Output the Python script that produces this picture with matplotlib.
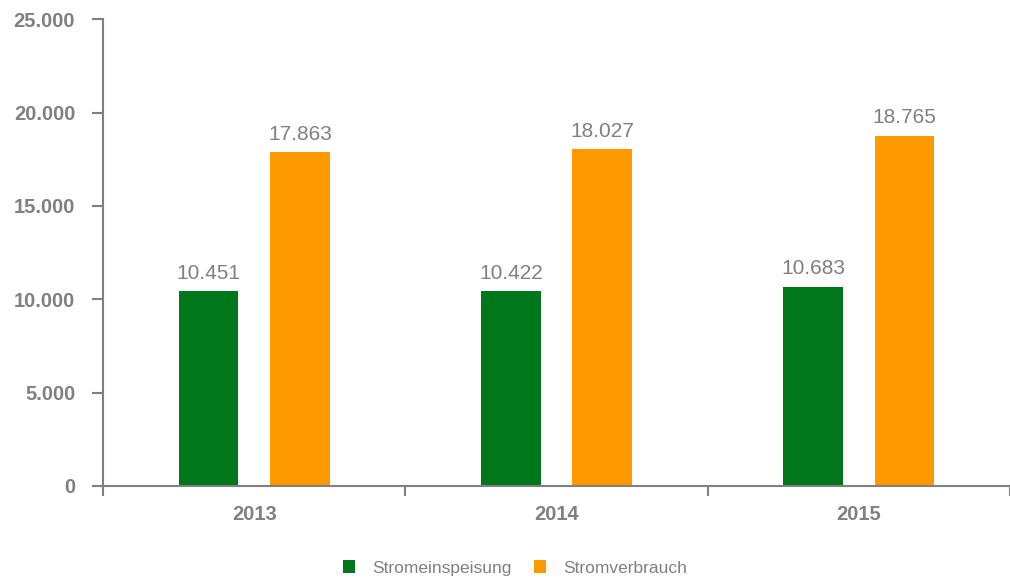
import numpy as np
import matplotlib
matplotlib.use("Agg")
import matplotlib.pyplot as plt

plt.rcParams["font.family"] = ["Liberation Sans", "DejaVu Sans"]

# data
years = ["2013", "2014", "2015"]
einspeisung = [10451, 10422, 10683]
verbrauch = [17863, 18027, 18765]
series_names = ["Stromeinspeisung", "Stromverbrauch"]
yticks = [0, 5000, 10000, 15000, 20000, 25000]

GREEN = "#00771a"
ORANGE = "#ff9900"
GRAY = "#808080"


def fmt(v):
    return f"{v:,.0f}".replace(",", ".")


fig = plt.figure(figsize=(10.10, 5.82), dpi=100)
ax = fig.add_axes([0.102, 0.165, 0.898, 0.802])

x = np.arange(len(years))
w = 0.197
off = 0.151
b1 = ax.bar(x - off, einspeisung, w, color=GREEN, label=series_names[0])
b2 = ax.bar(x + off, verbrauch, w, color=ORANGE, label=series_names[1])

for bars, vals in ((b1, einspeisung), (b2, verbrauch)):
    for rect, v in zip(bars, vals):
        ax.annotate(fmt(v), (rect.get_x() + rect.get_width() / 2, v),
                    xytext=(0, 6), textcoords="offset points",
                    ha="center", va="bottom", fontsize=15, color=GRAY)

ax.set_ylim(0, 25000)
ax.set_xlim(-0.5, -0.5 + 907 / 305)
ax.set_yticks(yticks)
ax.set_yticklabels([fmt(t) for t in yticks], fontsize=14.5, fontweight="bold", color=GRAY)

# category labels centered, tick marks at boundaries
ax.set_xticks(x)
ax.set_xticklabels(years, fontsize=14.5, fontweight="bold", color=GRAY)
ax.tick_params(axis="x", which="major", length=0, pad=14)
ax.set_xticks(np.arange(len(years) + 1) - 0.5, minor=True)
ax.tick_params(axis="x", which="minor", length=7, width=1.5, color=GRAY, direction="out")
ax.tick_params(axis="y", length=8, width=1.5, color=GRAY, direction="out", pad=12)

for s in ("top", "right"):
    ax.spines[s].set_visible(False)
for s in ("left", "bottom"):
    ax.spines[s].set_color(GRAY)
    ax.spines[s].set_linewidth(1.5)

fig.legend(handles=[b1, b2], loc="center", bbox_to_anchor=(0.51, 0.024), ncol=2,
           frameon=False, fontsize=12.5, labelcolor=GRAY, handlelength=0.7,
           handleheight=0.7, handletextpad=1.0, columnspacing=1.3)

fig.savefig("out.png", dpi=100)
